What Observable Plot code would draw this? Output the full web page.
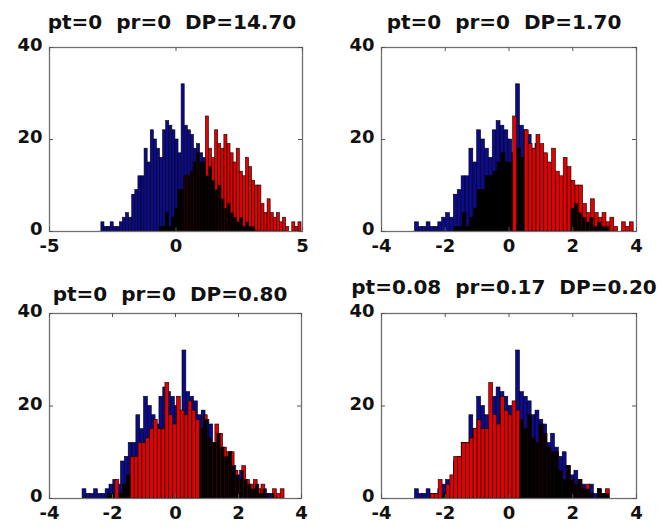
<!DOCTYPE html>
<html><head><meta charset="utf-8">
<script src="https://cdn.jsdelivr.net/npm/d3@7"></script>
<script src="https://cdn.jsdelivr.net/npm/@observablehq/plot@0.6"></script>
<style>
body{margin:0;background:#fff}
#fig{position:relative;width:664px;height:530px;overflow:hidden;background:#fff}
.title{position:absolute;width:400px;text-align:center;font-family:"DejaVu Sans";font-weight:bold;font-size:20px;line-height:20px;white-space:pre;color:#111}
.panel{position:absolute}
</style></head><body><div id="fig"></div>
<script>
// ---- data ----
const binWidth = 0.122;
const blueStart = -2.95;
const blueCounts = [2,1,1,2,1,1,2,3,4,3, 8,9,12,12,18,15,22,20,18,16, 22,24,23,22,20,17,32,23,22,21, 18,19,17,16,12,14,11,9,10,7, 5,6,4,3,2,3,1,2,1,1];
const redCounts = [1,1,4,1,3,5,9,9,12,12, 13,15,17,15,15,25,18,16,22,19, 18,21,19,17,15,18,13,12,16,14, 11,10,10,6,4,7,4,3,4,2, 3,1,0,2,1,2];
const redStarts = [-0.65, -1.70, -2.15, -2.45];
const panelTitles = ["pt=0  pr=0  DP=14.70", "pt=0  pr=0  DP=1.70", "pt=0  pr=0  DP=0.80", "pt=0.08  pr=0.17  DP=0.20"];
const xDomains = [[-5,5],[-4,4],[-4,4],[-4,4]];
const xTicks = [[-5,0,5],[-4,-2,0,2,4],[-4,-2,0,2,4],[-4,-2,0,2,4]];
const yDomain = [0,40];
const yTicks = [0,20,40];

// ---- layout & style ----
// split: right of it, the part of a red bar that overlaps the blue bars renders black
// ratio: left of split, a red bar lower than ratio*blue renders dark
const layout = [
  {left:0,   top:40,  width:332, height:225, mt:7, mb:34, ml:49, mr:30, tx:172, ty:12,  split:0.35, ratio:0.6},
  {left:332, top:40,  width:332, height:225, mt:7, mb:34, ml:49, mr:28, tx:504, ty:12,  split:2.0,  ratio:0.8},
  {left:0,   top:305, width:332, height:225, mt:8, mb:32, ml:49, mr:31, tx:170, ty:284, split:0.75, ratio:0.5},
  {left:332, top:305, width:332, height:225, mt:8, mb:32, ml:49, mr:28, tx:504, ty:277, split:0.3,  ratio:0.5}
];
const blueColor = "#0b0b8c", redColor = "#e40000", overlapColor = "#000000";

const fig = document.getElementById("fig");
const blue = blueCounts.map((c,i)=>({x1: blueStart+i*binWidth, x2: blueStart+(i+1)*binWidth, y: c})).filter(d=>d.y>0);
function blueAt(x){ const i = Math.floor((x-blueStart)/binWidth); return (i>=0 && i<blueCounts.length) ? blueCounts[i] : 0; }
function overlaps(bars){
  const out = [];
  bars.forEach(d => {
    blue.forEach(b => {
      const a = Math.max(d.x1, b.x1), e = Math.min(d.x2, b.x2), h = Math.min(d.y, b.y);
      if (e > a && h > 0) out.push({x1: a, x2: e, y: h});
    });
  });
  return out;
}

layout.forEach((L, p) => {
  const rs = redStarts[p];
  const red = redCounts.map((c,i)=>({x1: rs+i*binWidth, x2: rs+(i+1)*binWidth, y: c, c: rs+(i+0.5)*binWidth})).filter(d=>d.y>0);
  const redRight = red.filter(d => d.c > L.split);
  const redLeftDark = red.filter(d => d.c <= L.split && d.y < L.ratio*blueAt(d.c));
  const redLeft = red.filter(d => d.c <= L.split && !(d.y < L.ratio*blueAt(d.c)));
  const overlapRight = overlaps(redRight);
  const fh = L.height - L.mt - L.mb, fw = L.width - L.ml - L.mr;
  const tk = "#555";
  const chart = Plot.plot({
    width: L.width, height: L.height,
    marginLeft: L.ml, marginRight: L.mr, marginTop: L.mt, marginBottom: L.mb,
    x: {domain: xDomains[p]},
    y: {domain: yDomain},
    style: {fontFamily: '"DejaVu Sans"', fontWeight: "bold", fontSize: "18px", color: "#111", background: "transparent", overflow: "visible"},
    marks: [
      Plot.rectY(blue, {x1: "x1", x2: "x2", y: "y", fill: blueColor, stroke: "#000", strokeWidth: 0.6}),
      Plot.rectY(redLeftDark, {x1: "x1", x2: "x2", y: "y", fill: overlapColor, stroke: "#000", strokeWidth: 0.6}),
      Plot.rectY(redLeft, {x1: "x1", x2: "x2", y: "y", fill: redColor, stroke: "#000", strokeWidth: 0.6}),
      Plot.rectY(redRight, {x1: "x1", x2: "x2", y: "y", fill: redColor, stroke: "#000", strokeWidth: 0.6}),
      Plot.rectY(overlapRight, {x1: "x1", x2: "x2", y: "y", fill: overlapColor}),
      Plot.frame({stroke: "#707070", strokeWidth: 1.3}),
      Plot.tickX(xTicks[p], {x: d=>d, insetTop: fh-4, stroke: tk}),
      Plot.tickX(xTicks[p], {x: d=>d, insetBottom: fh-4, stroke: tk}),
      Plot.tickY(yTicks, {y: d=>d, insetRight: fw-4, stroke: tk}),
      Plot.tickY(yTicks, {y: d=>d, insetLeft: fw-4, stroke: tk}),
      Plot.axisX({ticks: xTicks[p], tickSize: 0, tickPadding: 8, tickFormat: d=>String(d), label: null}),
      Plot.axisY({ticks: yTicks, tickSize: 0, tickPadding: 7, dy: -2, tickFormat: d=>String(d), label: null})
    ]
  });
  const wrap = document.createElement("div");
  wrap.className = "panel";
  wrap.style.left = L.left + "px"; wrap.style.top = L.top + "px";
  wrap.appendChild(chart);
  fig.appendChild(wrap);
  const t = document.createElement("div");
  t.className = "title";
  t.textContent = panelTitles[p];
  t.style.left = (L.tx - 200) + "px"; t.style.top = L.ty + "px";
  fig.appendChild(t);
});
</script></body></html>
